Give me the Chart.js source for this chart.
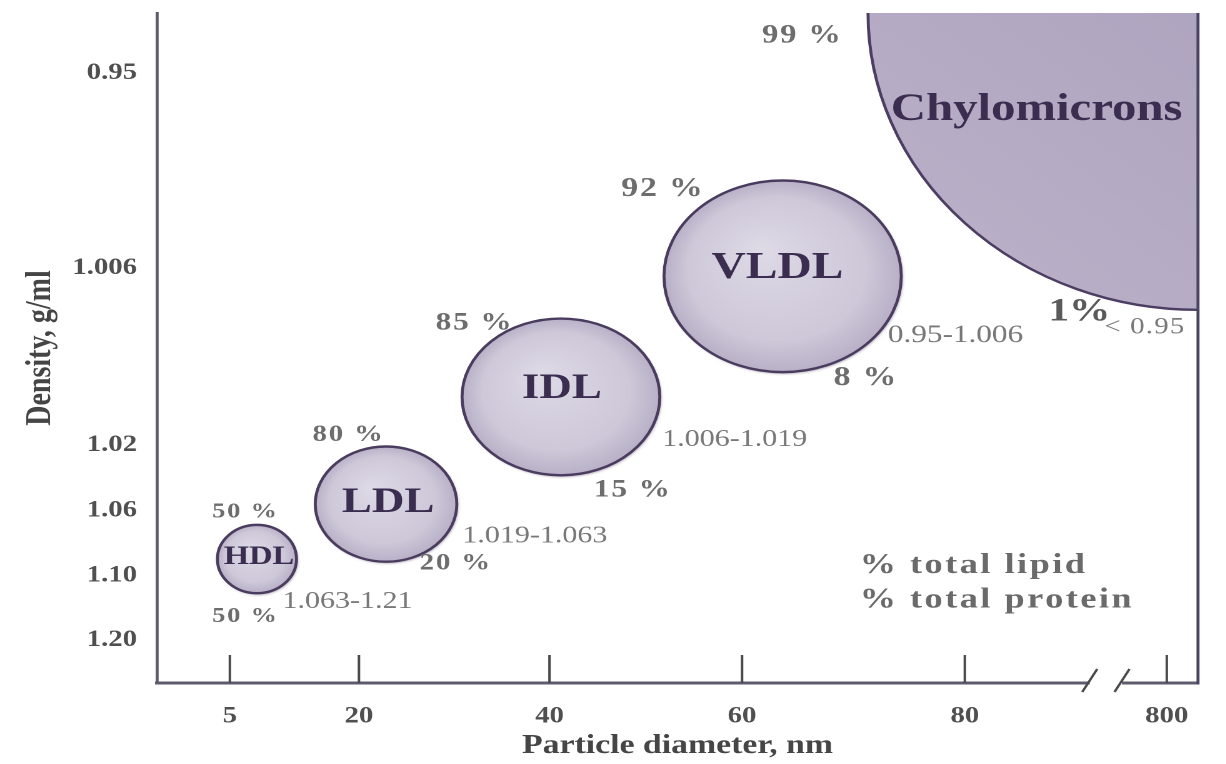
<!DOCTYPE html>
<html>
<head>
<meta charset="utf-8">
<title>Lipoprotein classes</title>
<script src="https://cdn.jsdelivr.net/npm/chart.js@4.4.1/dist/chart.umd.min.js"></script>
<style>
  html, body { margin: 0; padding: 0; background: #fff; overflow: hidden; }
  /* the source picture is stretched sideways, so the whole canvas is too */
  #wrap { width: 981px; height: 764px; transform: scaleX(1.25); transform-origin: 0 0; }
</style>
</head>
<body>
<div id="wrap"><canvas id="lipo"></canvas></div>
<script>
'use strict';

// lipoprotein classes, placed on the diagram's own (broken) axes, 0..100
var lipoNames = ['HDL', 'LDL', 'IDL', 'VLDL'];
var centerX = [9.6, 22.0, 38.8, 60.1];
var centerY = [18.5, 26.7, 42.7, 60.7];
var radiusX = [3.8, 6.8, 9.5, 11.4];
var radiusY = [5.1, 8.6, 11.7, 14.3];
var chyloName = 'Chylomicrons';
var chyloRadiusX = 31.7;
var chyloRadiusY = 44.3;

// composition and density range, HDL .. Chylomicrons
var lipidPct = ['50 %', '80 %', '85 %', '92 %', '99 %'];
var proteinPct = ['50 %', '20 %', '15 %', '8 %', '1%'];
var densityRange = ['1.063-1.21', '1.019-1.063', '1.006-1.019', '0.95-1.006', '< 0.95'];

// axis ticks
var xTickPos = [7.0, 19.4, 37.7, 56.2, 77.6, 97.0];
var xTickLabels = ['5', '20', '40', '60', '80', '800'];
var yTickPos = [91.0, 61.9, 35.5, 25.7, 16.0, 6.4];
var yTickLabels = ['0.95', '1.006', '1.02', '1.06', '1.10', '1.20'];
var xBreaks = [89.6, 92.7];

// where the annotations go (same axis units)
var lipidAt = [[8.5, 25.5], [18.4, 37.0], [30.5, 53.7], [48.6, 73.7], [62.0, 96.6]];
var proteinAt = [[8.5, 9.9], [28.7, 17.8], [45.7, 28.8], [68.1, 45.5], [88.6, 55.4]];
var rangeAt = [[18.3, 12.1], [36.3, 21.9], [55.5, 36.3], [76.7, 51.9], [94.9, 53.1]];
var nameAt = [[9.8, 18.8], [22.2, 26.9], [38.9, 43.9], [59.6, 61.9], [84.5, 85.5]];
var keyAt = [67.5, 17.5, 12.4];

var serif = '"Liberation Serif", "Times New Roman", serif';
var lipidSize = [21, 23, 25, 27, 26];
var proteinSize = [21, 23, 25, 27, 33];
var rangeSize = [24, 24, 24, 25, 23];
var nameSize = [26, 36, 36, 38, 39];

function put(ctx, text, x, y, font, color, align, spacing) {
    ctx.font = font;
    ctx.fillStyle = color;
    ctx.textAlign = align || 'center';
    ctx.textBaseline = 'middle';
    ctx.letterSpacing = spacing || '0px';
    ctx.fillText(text, x, y);
    ctx.letterSpacing = '0px';
}

// chart.js pads the axes for the end labels; the frame here goes edge to edge
function noEndPadding(s) {
    s.paddingTop = 0;
    s.paddingBottom = 0;
    s.paddingLeft = 0;
    s.paddingRight = 0;
}

var lipoDraw = {
    id: 'lipoDraw',
    beforeDatasetsDraw: function (chart) {
        var ctx = chart.ctx,
            xs = chart.scales.x,
            ys = chart.scales.y,
            a = chart.chartArea;

        // chylomicrons: a quarter ellipse hanging from the top right corner
        var crx = xs.getPixelForValue(100) - xs.getPixelForValue(100 - chyloRadiusX),
            cry = ys.getPixelForValue(100 - chyloRadiusY) - ys.getPixelForValue(100);
        ctx.save();
        var g = ctx.createLinearGradient(a.right, a.top, a.right - crx, a.top + cry);
        g.addColorStop(0, '#b0a5c0');
        g.addColorStop(1, '#bcb2c9');
        ctx.beginPath();
        ctx.moveTo(a.right, a.top);
        ctx.lineTo(a.right, a.top + cry);
        ctx.ellipse(a.right, a.top, crx, cry, 0, Math.PI / 2, Math.PI);
        ctx.closePath();
        ctx.fillStyle = g;
        ctx.fill();
        ctx.beginPath();
        ctx.ellipse(a.right, a.top, crx, cry, 0, Math.PI / 2, Math.PI);
        ctx.strokeStyle = '#4c3e62';
        ctx.lineWidth = 2.4;
        ctx.stroke();
        ctx.restore();

        // the other classes as shaded ellipses
        chart.data.datasets[0].data.forEach(function (d) {
            var cx = xs.getPixelForValue(d.x),
                cy = ys.getPixelForValue(d.y),
                rx = xs.getPixelForValue(d.x + d.rx) - cx,
                ry = ys.getPixelForValue(d.y - d.ry) - cy;
            ctx.save();
            ctx.shadowColor = 'rgba(50, 30, 70, 0.45)';
            ctx.shadowOffsetX = 2;
            ctx.shadowOffsetY = 3;
            ctx.shadowBlur = 5;
            ctx.translate(cx, cy);
            ctx.scale(1, ry / rx);
            var rg = ctx.createRadialGradient(-rx * 0.2, -rx * 0.3, 0, 0, 0, rx);
            rg.addColorStop(0, '#dedae6');
            rg.addColorStop(0.75, '#cec8d9');
            rg.addColorStop(1, '#b9b0c7');
            ctx.beginPath();
            ctx.arc(0, 0, rx, 0, Math.PI * 2);
            ctx.fillStyle = rg;
            ctx.fill();
            ctx.restore();
            ctx.save();
            ctx.beginPath();
            ctx.ellipse(cx, cy, rx, ry, 0, 0, Math.PI * 2);
            ctx.strokeStyle = '#4a3c5e';
            ctx.lineWidth = 2.4;
            ctx.stroke();
            ctx.restore();
        });
    },
    afterDraw: function (chart) {
        var ctx = chart.ctx,
            xs = chart.scales.x,
            ys = chart.scales.y,
            a = chart.chartArea;
        ctx.save();

        // right frame line
        ctx.beginPath();
        ctx.moveTo(a.right, a.top);
        ctx.lineTo(a.right, a.bottom + 1.5);
        ctx.strokeStyle = '#4b4460';
        ctx.lineWidth = 2.4;
        ctx.stroke();

        // tick marks stand up inside the plot
        ctx.strokeStyle = '#4a4a4a';
        ctx.lineWidth = 2;
        xTickPos.forEach(function (v) {
            var x = xs.getPixelForValue(v);
            ctx.beginPath();
            ctx.moveTo(x, a.bottom);
            ctx.lineTo(x, a.bottom - 28);
            ctx.stroke();
        });

        // axis break
        var b0 = xs.getPixelForValue(xBreaks[0]), b1 = xs.getPixelForValue(xBreaks[1]);
        ctx.fillStyle = '#fff';
        ctx.fillRect(b0, a.bottom - 3, b1 - b0, 6);
        ctx.strokeStyle = '#4a4a4a';
        ctx.lineWidth = 2;
        xBreaks.forEach(function (v) {
            var x = xs.getPixelForValue(v);
            ctx.beginPath();
            ctx.moveTo(x - 6, a.bottom + 9);
            ctx.lineTo(x + 6, a.bottom - 14);
            ctx.stroke();
        });

        // annotations
        var i;
        for (i = 0; i < 5; i++) {
            put(ctx, lipidPct[i], xs.getPixelForValue(lipidAt[i][0]), ys.getPixelForValue(lipidAt[i][1]),
                'bold ' + lipidSize[i] + 'px ' + serif, '#6d6d6d', 'center', '1.5px');
            put(ctx, proteinPct[i], xs.getPixelForValue(proteinAt[i][0]), ys.getPixelForValue(proteinAt[i][1]),
                'bold ' + proteinSize[i] + 'px ' + serif, i === 4 ? '#5a5a5a' : '#6d6d6d', 'center', i === 4 ? '0px' : '1.5px');
            put(ctx, densityRange[i], xs.getPixelForValue(rangeAt[i][0]), ys.getPixelForValue(rangeAt[i][1]),
                rangeSize[i] + 'px ' + serif, '#787878', 'center', i === 4 ? '1px' : '0px');
            put(ctx, i < 4 ? lipoNames[i] : chyloName, xs.getPixelForValue(nameAt[i][0]), ys.getPixelForValue(nameAt[i][1]),
                'bold ' + nameSize[i] + 'px ' + serif, '#3b2d50');
        }
        put(ctx, '% total lipid', xs.getPixelForValue(keyAt[0]), ys.getPixelForValue(keyAt[1]),
            'bold 29px ' + serif, '#6a6a6a', 'left', '2px');
        put(ctx, '% total protein', xs.getPixelForValue(keyAt[0]), ys.getPixelForValue(keyAt[2]),
            'bold 29px ' + serif, '#6a6a6a', 'left', '2px');
        ctx.restore();
    }
};

var tickFont = { family: serif, size: 23, weight: 'bold' };

new Chart(document.getElementById('lipo'), {
    type: 'scatter',
    data: {
        datasets: [{
            label: 'Lipoproteins',
            data: lipoNames.map(function (n, i) {
                return { x: centerX[i], y: centerY[i], rx: radiusX[i], ry: radiusY[i], name: n };
            }),
            pointRadius: 0,
            pointHoverRadius: 0
        }]
    },
    options: {
        responsive: true,
        maintainAspectRatio: false,
        animation: false,
        devicePixelRatio: 2,
        events: [],
        layout: { padding: { top: 13, right: 22.6, left: 0, bottom: 0 } },
        plugins: {
            legend: { display: false },
            tooltip: { enabled: false }
        },
        scales: {
            x: {
                type: 'linear',
                min: 0,
                max: 100,
                afterBuildTicks: function (s) {
                    s.ticks = xTickPos.map(function (v) { return { value: v }; });
                },
                afterFit: function (s) { s.height = 81; noEndPadding(s); },
                grid: { display: true, drawOnChartArea: false, drawTicks: false, color: 'rgba(0,0,0,0)' },
                border: { display: true, color: '#5d5b6c', width: 3 },
                ticks: {
                    autoSkip: false,
                    maxRotation: 0,
                    padding: 20,
                    color: '#4f4f4f',
                    font: tickFont,
                    callback: function (v, i) { return xTickLabels[i]; }
                },
                title: {
                    display: true,
                    text: 'Particle diameter, nm',
                    color: '#454545',
                    font: { family: serif, size: 27, weight: 'bold' },
                    padding: { top: 0, bottom: 2 }
                }
            },
            y: {
                type: 'linear',
                min: 0,
                max: 100,
                afterBuildTicks: function (s) {
                    s.ticks = yTickPos.map(function (v) { return { value: v }; });
                },
                afterFit: function (s) { s.width = 125.6; noEndPadding(s); },
                grid: { display: true, drawOnChartArea: false, drawTicks: false, color: 'rgba(0,0,0,0)' },
                border: { display: true, color: '#5d5b6c', width: 2.4 },
                ticks: {
                    autoSkip: false,
                    padding: 16,
                    color: '#4f4f4f',
                    font: tickFont,
                    callback: function (v, i) { return yTickLabels[i]; }
                },
                title: {
                    display: true,
                    text: 'Density, g/ml',
                    color: '#454545',
                    font: { family: serif, size: 28, weight: 'bold' },
                    padding: { top: 16, bottom: 0 }
                }
            }
        }
    },
    plugins: [lipoDraw]
});
</script>
</body>
</html>
